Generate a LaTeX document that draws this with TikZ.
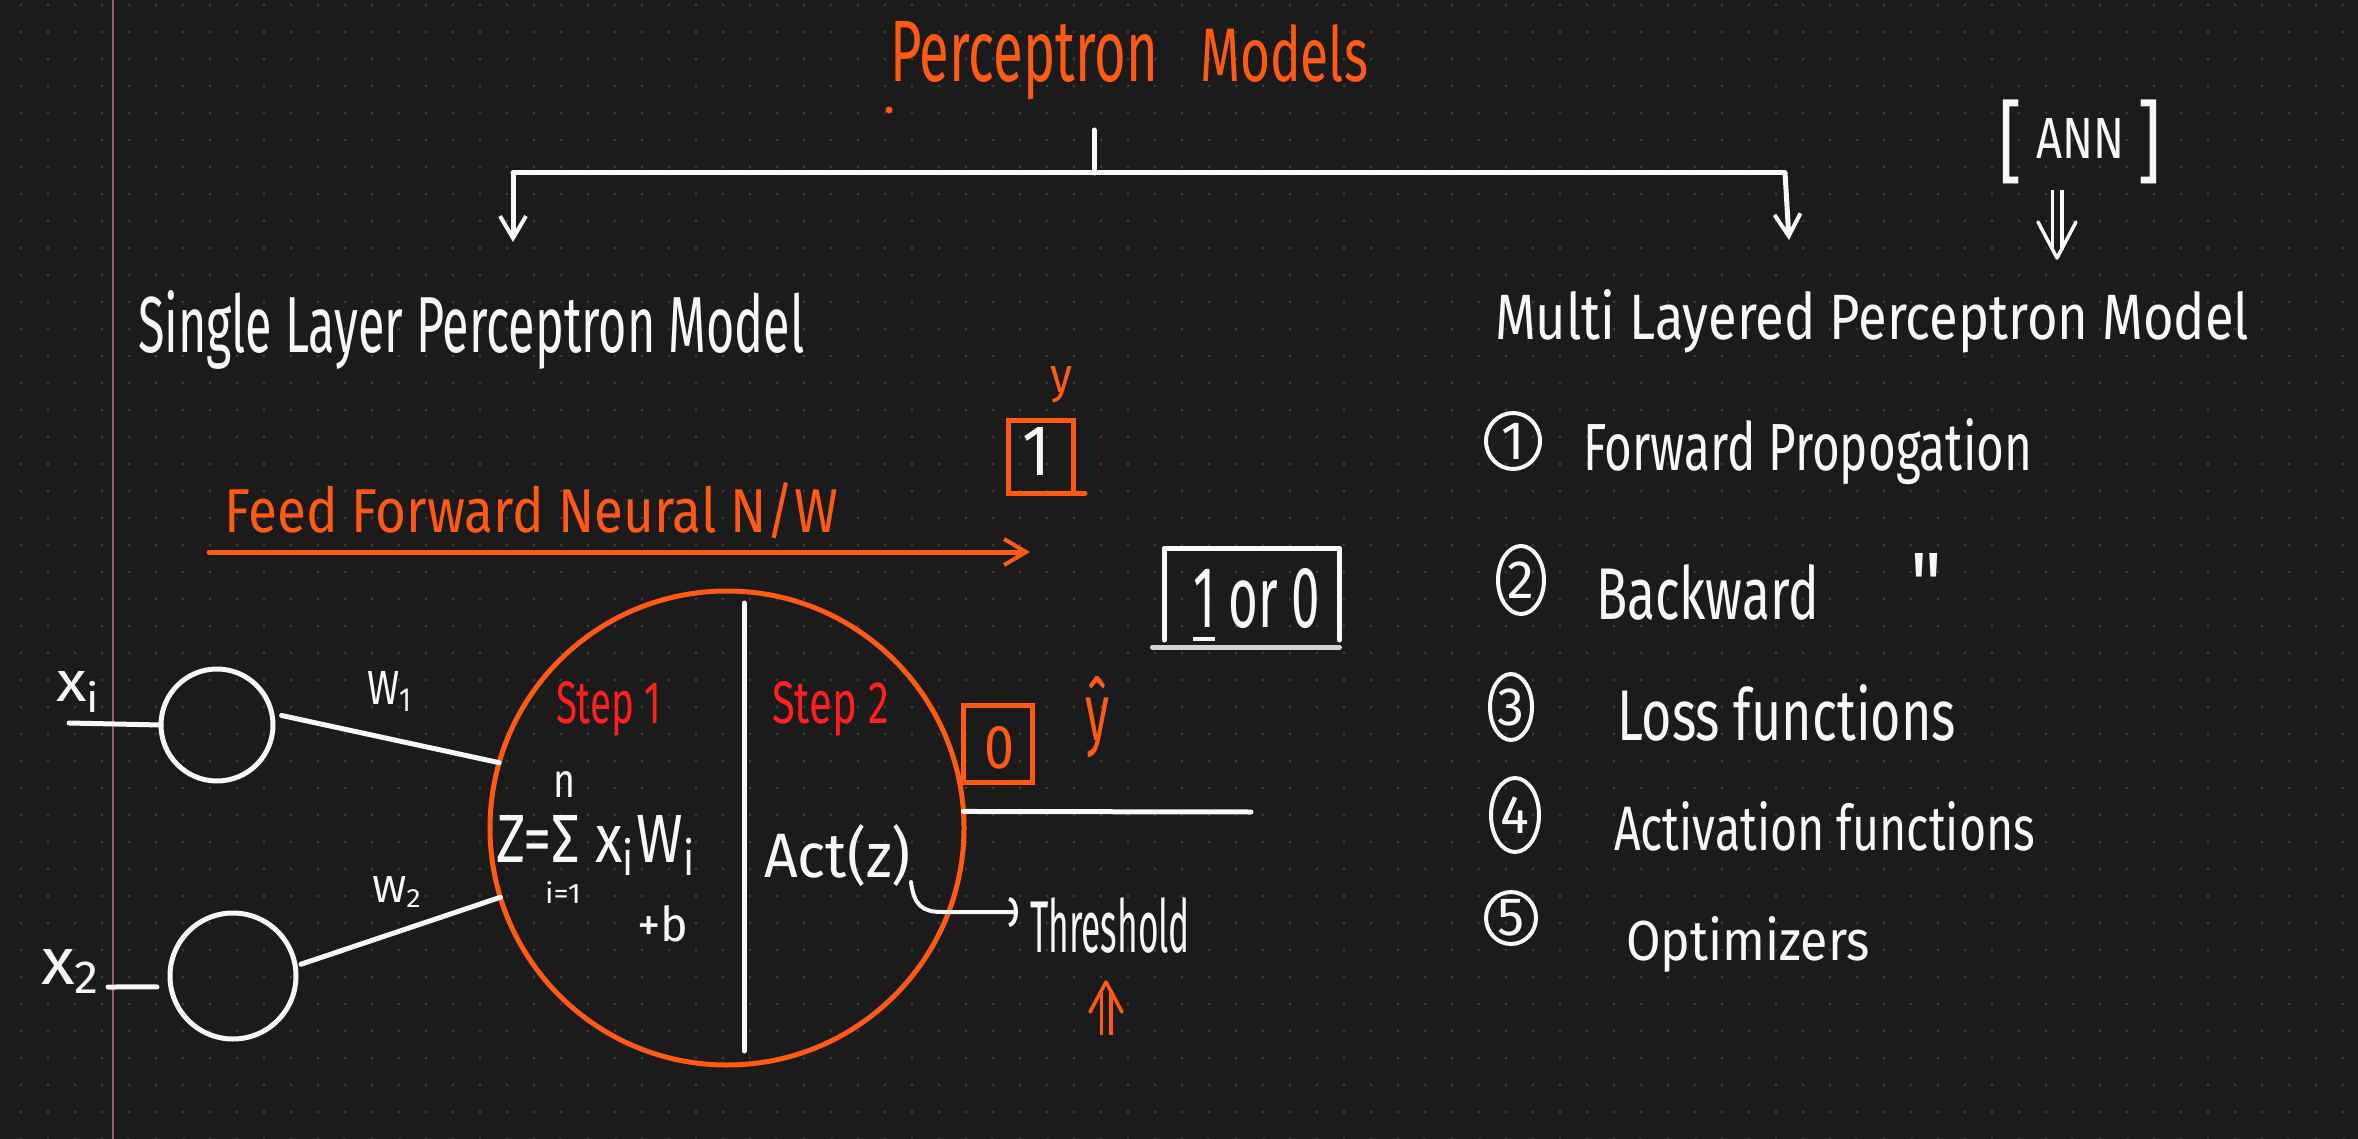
\documentclass[tikz,border=0pt]{standalone}
\usepackage{fontspec}
\usepackage{graphicx}
\setmainfont{Fira Sans}
\newfontfamily\plainfira[Ligatures=TeXOff]{Fira Sans}
\usetikzlibrary{arrows.meta,calc,shapes.geometric}
\definecolor{bgc}{HTML}{1B1B1B}
\definecolor{org}{HTML}{FF5A14}
\definecolor{stepred}{HTML}{FF1F1F}
\definecolor{dotc}{HTML}{3A3A3A}
\definecolor{pinkl}{HTML}{9C5F78}
\definecolor{chalk}{HTML}{F7F7F7}
\newcommand{\fitbox}[3]{\resizebox{#1pt}{#2pt}{#3}}
\newcommand{\fitall}[3]{\resizebox*{#1pt}{#2pt}{#3}}
\begin{document}
\begin{tikzpicture}[x=1pt,y=-1pt,
  txt/.style={inner sep=0pt, outer sep=0pt, anchor=base west, text=chalk},
  otxt/.style={txt, text=org},
  rtxt/.style={txt, text=stepred},
  wline/.style={draw=chalk, line width=5pt, line cap=round, line join=round},
  oline/.style={draw=org, line width=5pt, line cap=round, line join=round},
  barb/.style={-{Straight Barb[length=22pt,width=26pt,line width=4pt]}},
  inputc/.style={circle, draw=chalk, line width=5pt, inner sep=0pt, outer sep=0pt},
  numc/.style={ellipse, draw=chalk, line width=4pt, inner sep=0pt, outer sep=0pt, text=chalk, font=\fontsize{54}{54}\selectfont},
  obox/.style={draw=org, line width=5pt, inner sep=0pt, outer sep=0pt},
]
\fill[bgc] (0,0) rectangle (2358,1139);
\useasboundingbox (0,0) rectangle (2358,1139);
\foreach \i in {0,...,86} \foreach \j in {0,...,42} \fill[dotc] (21+27*\i, 5+27*\j) circle (1.6pt);
\draw[pinkl, line width=2pt] (113,0) -- (113,1139);

% title
\node[otxt] (t1) at (890,82) {\fitbox{268}{60}{Perceptron}};
\node[otxt] (t2) at (1200,82) {\fitbox{168}{57}{Models}};
\fill[org] (889,110) circle (3.5pt);

% tree
\coordinate (tt) at (1094,130); \coordinate (tm) at (1094,173);
\coordinate (tl) at (513,173); \coordinate (tr) at (1785,173);
\coordinate (la) at (513,242); \coordinate (ra) at (1789,240);
\draw[wline] (tt) -- (tm);
\draw[wline] (tl) -- (tr);
\draw[wline, barb] (tl) -- (la);
\draw[wline, barb] (tr) -- (ra);

% ANN
\node[txt, anchor=north west] (lbr) at (1998,100) {\fitall{24}{84}{[}};
\node[txt, anchor=north west] (ann) at (2036,118) {\fitall{88}{40}{ANN}};
\node[txt, anchor=north west] (rbr) at (2137,100) {\fitall{24}{84}{]}};
\coordinate (dA) at (2057,190); \coordinate (dB) at (2057,258);
\draw[chalk, line width=3.5pt, double=bgc, double distance=6pt] (dA) -- ($(dB)+(0,-8)$);
\draw[wline, line width=3.5pt] ($(dB)+(-19,-36)$) -- (dB) -- ($(dB)+(19,-36)$);

% headings
\node[txt] (slp) at (138,353) {\fitbox{666}{62}{Single Layer Perceptron Model}};
\node[txt] (mlp) at (1495,340) {\fitbox{754}{50}{Multi Layered Perceptron Model}};

% feed forward
\node[otxt] (ff) at (224,532) {\fitbox{614}{50}{Feed Forward Neural N/W}};
\coordinate (ffs) at (209,552); \coordinate (ffe) at (1030,552);
\draw[oline, -{Straight Barb[length=22pt,width=26pt,line width=4pt]}] (ffs) -- (ffe);

% y and box 1
\node[otxt] (ylab) at (1050,392) {\fitbox{22}{26}{y}};
\node[obox, minimum width=65pt, minimum height=73pt] (b1) at (1040.5,456.5) {};
\node[txt] (one) at (1022,475) {\fitbox{28}{48}{1}};
\draw[oline] (b1.south east) -- ++(12,0);

% 1 or 0
\node[minimum width=175pt, minimum height=92pt, inner sep=0pt, outer sep=0pt] (oz) at (1252,594) {};
\draw[wline] (oz.south west) -- (oz.north west) -- (oz.north east) -- (oz.south east);
\draw[wline, draw=chalk!85!black] ($(oz.south west)+(-12,7)$) -- ($(oz.south east)+(0,7)$);
\node[txt] (ozt) at (1193,627) {\fitbox{127}{59}{\underline{1} or 0}};

% inputs
\node[inputc, minimum size=112pt] (c1) at (217,725) {};
\node[inputc, minimum size=126pt] (c2) at (233,976) {};
\node[txt] (xi) at (56,701) {\fitbox{46}{30}{x\textsubscript{i}}};
\node[txt] (x2) at (41,984) {\fitbox{61}{35}{x\textsubscript{2}}};
\coordinate (xis) at (69,723);
\draw[wline] (xis) -- (c1.west);
\coordinate (x2s) at (108,987);
\draw[wline, shorten >=14pt] (x2s) -- (c2.190);
\node[txt] (w1) at (367,704) {\fitbox{46}{33}{W\textsubscript{1}}};
\node[txt] (w2) at (372,902) {\fitbox{51}{26}{W\textsubscript{2}}};

% neuron
\node[circle, draw=org, line width=5pt, minimum size=474pt, inner sep=0pt, outer sep=0pt] (nr) at (727,828) {};
\draw[wline, shorten <=10pt] (c1.12) -- (nr.164);
\draw[wline, shorten <=6pt] (c2.9) -- (nr.197);
\draw[wline] (744,603) -- (744,1051);

\node[rtxt] (s1) at (556,723) {\fitbox{105}{42}{Step 1}};
\node[rtxt] (s2) at (772,723) {\fitbox{117}{42}{Step 2}};
\node[txt] (nn) at (553,797) {\fitbox{22}{26}{n}};
\node[txt] (zf) at (496,862) {\fitbox{201}{47}{Z=Σ x\textsubscript{i}W\textsubscript{i}}};
\node[txt] (ieq) at (545,903) {\fitbox{36}{22}{i=1}};
\node[txt] (pb) at (637,941) {\fitbox{51}{36}{+b}};
\node[txt] (act) at (764,877) {\fitbox{147}{53}{Act(z)}};

% output
\coordinate (oe) at (1251,812);
\draw[wline] (nr.4) -- (oe);
\node[obox, minimum width=69pt, minimum height=77pt] (b0) at (998,744) {};
\node[otxt] (zero) at (984,768) {\fitbox{30}{42}{0}};
\node[otxt] (yh) at (1085,740) {\fitbox{24}{64}{ŷ}};

% threshold
\coordinate (actout) at (911,882); \coordinate (thrin) at (1018,912);
\draw[wline, line width=4pt, -{Arc Barb[length=9pt,width=30pt,line width=4pt]}] (actout) .. controls (914,905) and (922,912) .. (942,912) -- (thrin);
\node[txt] (thr) at (1030,952) {\fitbox{160}{55}{Threshold}};
\coordinate (uA) at (1106,1035); \coordinate (uB) at (1106,982);
\draw[org, line width=3.5pt, double=bgc, double distance=6pt] (uA) -- ($(uB)+(0,8)$);
\draw[oline, line width=3.5pt] ($(uB)+(-16,30)$) -- (uB) -- ($(uB)+(16,30)$);

% list
\node[numc, minimum width=54pt, minimum height=56pt] (n1) at (1513,441) {1};
\node[numc, minimum width=46pt, minimum height=68pt] (n2) at (1521,580) {2};
\node[numc, minimum width=42pt, minimum height=66pt] (n3) at (1511,707) {3};
\node[numc, minimum width=48pt, minimum height=74pt] (n4) at (1515,815) {4};
\node[numc, minimum width=50pt, minimum height=50pt] (n5) at (1511,918) {5};
\node[txt] (fp) at (1583,470) {\fitbox{449}{52}{Forward Propogation}};
\node[txt] (bw) at (1596,619) {\fitbox{223}{55}{Backward}};
\node[txt, anchor=north west] (dit) at (1910,553) {\fitall{32}{62}{\plainfira\symbol{34}}};
\node[txt] (lf) at (1617,740) {\fitbox{339}{56}{Loss functions}};
\node[txt] (af) at (1614,850) {\fitbox{421}{49}{Activation functions}};
\node[txt] (op) at (1626,960) {\fitbox{244}{44}{Optimizers}};
\end{tikzpicture}
\end{document}
